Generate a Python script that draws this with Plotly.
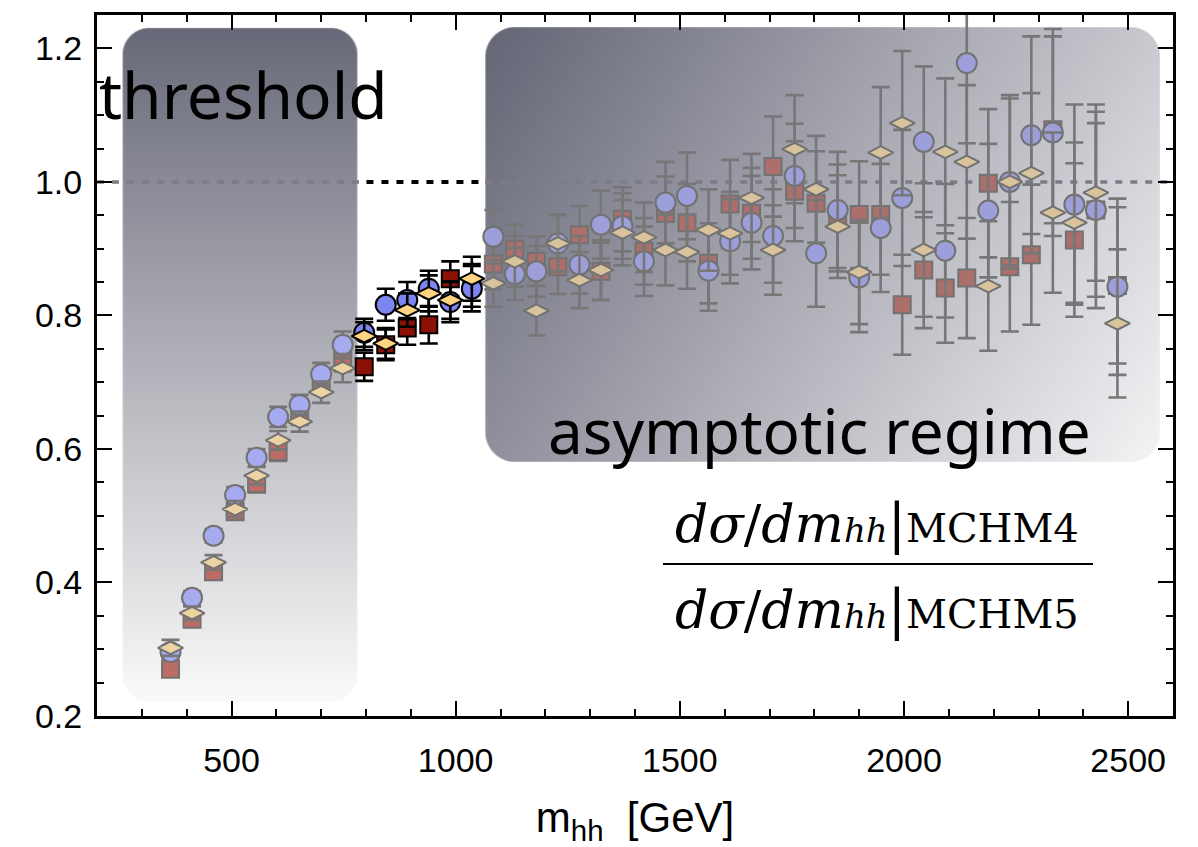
import base64
import struct
import zlib

import numpy as np
import plotly.graph_objects as go

# ---------------------------------------------------------------------------
# Ratio of differential cross sections MCHM4 / MCHM5 in bins of m_hh
# ---------------------------------------------------------------------------
m_hh = [364, 412, 460, 508, 556, 604, 652, 700, 748, 796, 844, 892, 940, 988,
        1036, 1084, 1132, 1180, 1228, 1276, 1324, 1372, 1420, 1468, 1516,
        1564, 1612, 1660, 1708, 1756, 1804, 1852, 1900, 1948, 1996, 2044,
        2092, 2140, 2188, 2236, 2284, 2332, 2380, 2428, 2476]

ratio_circle = [0.296, 0.377, 0.470, 0.531, 0.587, 0.648, 0.666, 0.712, 0.756,
                0.774, 0.816, 0.823, 0.840, 0.820, 0.840, 0.918, 0.862, 0.866,
                0.908, 0.876, 0.936, 0.934, 0.881, 0.969, 0.979, 0.867, 0.911,
                0.939, 0.919, 1.009, 0.893, 0.958, 0.857, 0.931, 0.976, 1.060,
                0.897, 1.178, 0.957, 1.000, 1.070, 1.074, 0.966, 0.958, 0.843]
err_circle = [0.010, 0.010, 0.010, 0.012, 0.013, 0.015, 0.015, 0.017, 0.020,
              0.021, 0.024, 0.027, 0.027, 0.030, 0.034, 0.040, 0.039, 0.038,
              0.043, 0.043, 0.051, 0.049, 0.052, 0.061, 0.065, 0.060, 0.063,
              0.070, 0.070, 0.078, 0.080, 0.087, 0.082, 0.096, 0.102, 0.113,
              0.100, 0.120, 0.100, 0.130, 0.148, 0.155, 0.150, 0.147, 0.132]

ratio_square = [0.270, 0.345, 0.416, 0.506, 0.548, 0.596, 0.651, 0.699, 0.736,
                0.723, 0.756, 0.781, 0.786, 0.855, 0.845, 0.877, 0.899, 0.881,
                0.873, 0.921, 0.866, 0.944, 0.896, 0.953, 0.939, 0.878, 0.967,
                0.953, 1.023, 0.986, 0.968, 0.946, 0.951, 0.951, 0.816, 0.868,
                0.841, 0.856, 0.998, 0.873, 0.891, 1.078, 0.913, 0.958, 0.845]
err_square = [0.010, 0.010, 0.011, 0.012, 0.013, 0.014, 0.015, 0.016, 0.020,
              0.021, 0.023, 0.025, 0.028, 0.026, 0.032, 0.038, 0.037, 0.037,
              0.041, 0.043, 0.043, 0.048, 0.050, 0.055, 0.058, 0.060, 0.066,
              0.068, 0.075, 0.075, 0.078, 0.080, 0.080, 0.090, 0.075, 0.087,
              0.082, 0.090, 0.111, 0.097, 0.105, 0.140, 0.115, 0.130, 0.117]

ratio_diamond = [0.302, 0.354, 0.430, 0.510, 0.560, 0.613, 0.641, 0.685, 0.721,
                 0.769, 0.758, 0.808, 0.833, 0.823, 0.855, 0.848, 0.881, 0.807,
                 0.908, 0.853, 0.868, 0.924, 0.917, 0.898, 0.895, 0.928, 0.923,
                 0.976, 0.898, 1.049, 0.989, 0.933, 0.865, 1.044, 1.088, 0.898,
                 1.045, 1.030, 0.844, 1.000, 1.013, 0.954, 0.939, 0.984, 0.788]
err_diamond = [0.012, 0.010, 0.011, 0.012, 0.013, 0.014, 0.015, 0.016, 0.021,
               0.021, 0.023, 0.025, 0.027, 0.028, 0.033, 0.035, 0.038, 0.037,
               0.042, 0.042, 0.045, 0.049, 0.052, 0.053, 0.055, 0.061, 0.062,
               0.066, 0.067, 0.081, 0.080, 0.077, 0.078, 0.098, 0.108, 0.100,
               0.110, 0.115, 0.097, 0.125, 0.120, 0.120, 0.120, 0.132, 0.111]

# shaded regions (GeV / ratio units)
threshold_box = dict(x0=257, x1=781, y0=0.221, y1=1.2307)
asymptotic_box = dict(x0=1066, x1=2571, y0=0.5805, y1=1.232)

X_RANGE = [200, 2600]
Y_RANGE = [0.2, 1.25]
UNITY = 1.0

# figure geometry in pixels
W, H = 1198, 847
ML, MR, MT, MB = 97, 25, 15, 131
PW, PH = W - ML - MR, H - MT - MB


def px_to_paper(px, py):
    return (px - ML) / PW, (H - MB - py) / PH


def png_data_uri(rgba):
    h, w, _ = rgba.shape
    raw = b"".join(b"\x00" + rgba[r].tobytes() for r in range(h))

    def chunk(tag, data):
        body = tag + data
        return (struct.pack(">I", len(data)) + body
                + struct.pack(">I", zlib.crc32(body) & 0xFFFFFFFF))

    png = (b"\x89PNG\r\n\x1a\n"
           + chunk(b"IHDR", struct.pack(">IIBBBBB", w, h, 8, 6, 0, 0, 0))
           + chunk(b"IDAT", zlib.compress(raw, 9))
           + chunk(b"IEND", b""))
    return "data:image/png;base64," + base64.b64encode(png).decode()


def rounded_gradient(w, h, radius, c0, c1, wx, wy, soft=1.5):
    yy, xx = np.mgrid[0:h, 0:w]
    xx = xx.astype(float) + 0.5
    yy = yy.astype(float) + 0.5
    t = (wx * xx / w + wy * yy / h) / (wx + wy)
    c0 = np.array(c0, float)
    c1 = np.array(c1, float)
    rgb = c0 + (c1 - c0) * t[..., None]
    qx = np.abs(xx - w / 2) - (w / 2 - radius)
    qy = np.abs(yy - h / 2) - (h / 2 - radius)
    d = (np.hypot(np.maximum(qx, 0), np.maximum(qy, 0))
         + np.minimum(np.maximum(qx, qy), 0) - radius)
    a = np.clip(0.5 - d / soft, 0, 1) * 255
    out = np.dstack([rgb, a]).round().clip(0, 255).astype(np.uint8)
    return png_data_uri(out)


thr_img = rounded_gradient(235, 674, 27, (104, 105, 120), (250, 250, 250), 0.0, 1.0)
asy_img = rounded_gradient(675, 435, 30, (100, 101, 117), (244, 244, 246), 0.7, 0.3)


def in_box(x, box):
    return box["x0"] <= x <= box["x1"]


faded_idx = [i for i, x in enumerate(m_hh) if in_box(x, threshold_box) or in_box(x, asymptotic_box)]
clear_idx = [i for i, x in enumerate(m_hh) if i not in faded_idx]

series = [
    # name, values, errors, symbol, size, full colour, faded colour (threshold, asymptotic)
    ("square", ratio_square, err_square, "square", 17, "#8c1006", ("#bb6c64", "#ad6f6c")),
    ("circle", ratio_circle, err_circle, "circle", 20, "#7d85f0", ("#a6aaee", "#9c9fda")),
    ("diamond", ratio_diamond, err_diamond, "diamond-wide", 18, "#fed480", ("#ecd4a2", "#d9c39c")),
]

fig = go.Figure()

# reference line at ratio = 1: grey dashes over the shaded areas, black dots in between
gap_lo = threshold_box["x1"] + 20
gap_hi = asymptotic_box["x0"]
fig.add_trace(go.Scatter(
    x=[X_RANGE[0], gap_lo, None, gap_hi, X_RANGE[1]], y=[UNITY, UNITY, None, UNITY, UNITY],
    mode="lines", line=dict(color="#7c7c88", width=3.5, dash="7px,8px"),
    showlegend=False, hoverinfo="skip", cliponaxis=True))
fig.add_trace(go.Scatter(
    x=[gap_lo, gap_hi], y=[UNITY, UNITY],
    mode="lines", line=dict(color="black", width=4, dash="7px,8px"),
    showlegend=False, hoverinfo="skip"))

# faded points (inside the shaded regions)
for name, vals, errs, sym, size, full, faded in series:
    xs = [m_hh[i] for i in faded_idx]
    colors = [faded[0] if in_box(m_hh[i], threshold_box) else faded[1] for i in faded_idx]
    fig.add_trace(go.Scatter(
        x=xs, y=[vals[i] for i in faded_idx], mode="markers", name=name,
        error_y=dict(type="data", array=[errs[i] for i in faded_idx],
                     color="#777777", thickness=2.6, width=9),
        marker=dict(symbol=sym, size=size, color=colors,
                    line=dict(color="#727272", width=2)),
        showlegend=False, hoverinfo="skip"))

# full-colour points between the two regions
for name, vals, errs, sym, size, full, faded in series:
    fig.add_trace(go.Scatter(
        x=[m_hh[i] for i in clear_idx], y=[vals[i] for i in clear_idx],
        mode="markers", name=name,
        error_y=dict(type="data", array=[errs[i] for i in clear_idx],
                     color="black", thickness=2.6, width=9),
        marker=dict(symbol=sym, size=size, color=full,
                    line=dict(color="black", width=2)),
        showlegend=False, hoverinfo="skip"))

images = [
    dict(source=thr_img, xref="x", yref="y", x=threshold_box["x0"], y=threshold_box["y1"],
         sizex=threshold_box["x1"] - threshold_box["x0"],
         sizey=threshold_box["y1"] - threshold_box["y0"],
         sizing="stretch", xanchor="left", yanchor="top", layer="below"),
    dict(source=asy_img, xref="x", yref="y", x=asymptotic_box["x0"], y=asymptotic_box["y1"],
         sizex=asymptotic_box["x1"] - asymptotic_box["x0"],
         sizey=asymptotic_box["y1"] - asymptotic_box["y0"],
         sizing="stretch", xanchor="left", yanchor="top", layer="below"),
]

# fraction bar of the ratio label
fx0, fy = px_to_paper(663, 564)
fx1, _ = px_to_paper(1093, 564)
shapes = [dict(type="line", xref="paper", yref="paper", x0=fx0, x1=fx1, y0=fy, y1=fy,
               line=dict(color="black", width=2))]

annotations = []
tx, ty = px_to_paper(97, 95)
annotations.append(dict(text="threshold", xref="paper", yref="paper", x=tx, y=ty,
                        xanchor="left", yanchor="middle", showarrow=False,
                        font=dict(family="Comic Sans MS, Noto Sans", size=64, color="black")))
ax_, ay_ = px_to_paper(546, 430)
annotations.append(dict(text="asymptotic regime", xref="paper", yref="paper", x=ax_, y=ay_,
                        xanchor="left", yanchor="middle", showarrow=False,
                        font=dict(family="Comic Sans MS, Noto Sans", size=62, color="black")))


def ratio_label(model):
    return ("<i>dσ</i>/<i>dm</i>"
            "<i><span style='font-size:34px'>hh</span></i>"
            "<span style='font-size:54px'>|</span>"
            f"<span style='font-size:40px'>{model}</span>")


serif = dict(family="DejaVu Serif, Liberation Serif, serif", size=52, color="black")
nx, ny = px_to_paper(877, 523)
annotations.append(dict(text=ratio_label("MCHM4"), xref="paper", yref="paper", x=nx, y=ny,
                        xanchor="center", yanchor="middle", showarrow=False, font=serif))
dx, dy = px_to_paper(877, 609)
annotations.append(dict(text=ratio_label("MCHM5"), xref="paper", yref="paper", x=dx, y=dy,
                        xanchor="center", yanchor="middle", showarrow=False, font=serif))

axis_font = dict(family="Liberation Sans, Arial, sans-serif", size=34, color="black")
common = dict(showline=True, linewidth=3, linecolor="black", mirror="allticks",
              ticks="inside", tickwidth=2, tickcolor="black", showgrid=False,
              zeroline=False, tickfont=axis_font)

fig.update_layout(
    width=W, height=H,
    margin=dict(l=ML, r=MR, t=MT, b=MB),
    paper_bgcolor="white", plot_bgcolor="white",
    images=images, shapes=shapes, annotations=annotations,
    xaxis=dict(range=X_RANGE, tick0=0, dtick=500, ticklen=15,
               minor=dict(dtick=100, ticklen=7, tickwidth=1.5, ticks="inside",
                          tickcolor="black", showgrid=False),
               ticklabelstandoff=12,
               title=dict(text="m<sub>hh</sub>  [GeV]",
                          font=dict(family="Liberation Sans, Arial, sans-serif", size=42,
                                    color="black"),
                          standoff=28),
               **common),
    yaxis=dict(range=Y_RANGE, tick0=0.2, dtick=0.2, tickformat=".1f", ticklen=15,
               minor=dict(dtick=0.05, ticklen=7, tickwidth=1.5, ticks="inside",
                          tickcolor="black", showgrid=False),
               ticklabelstandoff=5,
               **common),
)

fig.write_html("out.html")
